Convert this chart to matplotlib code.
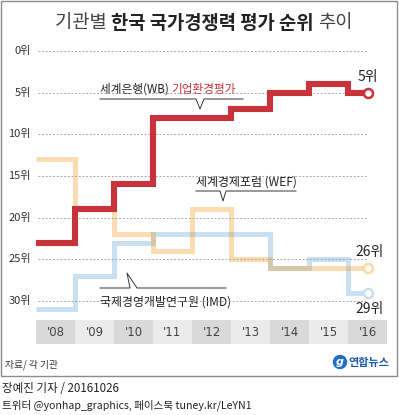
import matplotlib
matplotlib.use('Agg')
import matplotlib.pyplot as plt
from matplotlib.patches import Rectangle, Circle

plt.rcParams['font.family'] = ['Noto Sans CJK KR', 'DejaVu Sans']

# 연도 / 순위 데이터
years = ["'08", "'09", "'10", "'11", "'12", "'13", "'14", "'15", "'16"]
wb_rank = [23, 19, 16, 8, 8, 7, 5, 4, 5]        # 세계은행 기업환경평가
wef_rank = [13, 19, 22, 24, 19, 25, 26, 26, 26]  # 세계경제포럼
imd_rank = [31, 27, 23, 22, 22, 22, 26, 25, 29]  # 국제경영개발연구원
grid_ranks = [0, 5, 10, 15, 20, 25, 30]

RED = '#c8323a'
ORANGE = (0.97, 0.56, 0.0, 0.30)
BLUE = '#c8e0f2'
W, H = 399, 415

fig = plt.figure(figsize=(W / 100, H / 100), dpi=100)

# 픽셀 좌표용 바탕 axes
bg = fig.add_axes([0, 0, 1, 1])
bg.set_xlim(0, W)
bg.set_ylim(H, 0)
bg.axis('off')

# 차트 axes (x: 연도 인덱스, y: 순위)
ax = fig.add_axes([36 / W, (H - 350) / H, 351 / W, 310 / H])
ax.set_xlim(-0.5, 8.5)
ax.set_ylim(35.88, -1.32)
ax.axis('off')
ax.patch.set_alpha(0)

# 연도 띠
band_top, band_bot = 32.28, 35.16
shades = ['#d9d9d9' if i % 2 == 0 else '#ebebeb' for i in range(len(years))]
ax.bar(range(len(years)), band_bot - band_top, bottom=band_top, width=1.0,
       color=shades, zorder=1)
for i, y in enumerate(years):
    ax.text(i, (band_top + band_bot) / 2, y, ha='center', va='center',
            fontsize=8.5, color='#444444', family='DejaVu Sans')

# 눈금선 / 라벨
ax.hlines(grid_ranks, -0.45, 7.95, colors='#999999', linewidth=0.6,
          linestyles=(0, (2.2, 2.2)), zorder=3)
for r in grid_ranks:
    ax.text(-0.63, r, f'{r}위', ha='right', va='center', fontsize=8,
            color='#333333', clip_on=False)


def step_line(vals, color, lw, z, edge=None):
    xs = [-0.5] + list(range(len(vals)))
    ys = [vals[0]] + list(vals)
    ax.step(xs, ys, where='mid', color=color, linewidth=lw, zorder=z,
            solid_joinstyle='miter', solid_capstyle='butt')
    ax.plot(xs[-1], ys[-1], 'o', markersize=6.5, markerfacecolor='white',
            markeredgecolor=edge or color, markeredgewidth=1.8, zorder=z + 0.5)


step_line(imd_rank, BLUE, 3.6, 1.5)
step_line(wef_rank, ORANGE, 3.6, 2, edge='#fdd9a5')
step_line(wb_rank, RED, 4.4, 4)

# 끝 값 라벨
ax.text(8.0, wb_rank[-1] - 1.9, f'{wb_rank[-1]}위', ha='center', va='center',
        fontsize=10, color='#222222')
ax.text(8.05, wef_rank[-1] - 1.9, f'{wef_rank[-1]}위', ha='center', va='center',
        fontsize=10, color='#222222')
ax.text(8.05, imd_rank[-1] + 2.0, f'{imd_rank[-1]}위', ha='center', va='center',
        fontsize=10, color='#222222')

# 제목
t1 = bg.text(55, 33, '기관별 ', fontsize=13.5, color='#444444', va='bottom')
t2 = bg.annotate('한국 국가경쟁력 평가 순위 ', xy=(1, 0), xycoords=t1,
                 va='bottom', fontsize=13.5, fontweight='bold', color='#222222')
bg.annotate('추이', xy=(1, 0), xycoords=t2, va='bottom', fontsize=13.5,
            color='#444444')

# 설명 라벨
box = dict(facecolor='white', edgecolor='none', pad=0.5)
w1 = bg.text(100, 89, '세계은행(WB) ', fontsize=8.4, color='#222222', va='center',
             bbox=box, zorder=5)
bg.annotate('기업환경평가', xy=(1, 0.5), xycoords=w1, va='center', fontsize=8.4,
            color=RED, bbox=box, zorder=5)
bg.plot([100, 196, 200, 204, 243], [99, 99, 109, 99, 99], color='#333333',
        linewidth=0.7)

bg.text(196, 182, '세계경제포럼 (WEF)', fontsize=8.6, color='#222222', va='center',
        bbox=box, zorder=5)
bg.plot([196, 220, 223, 226, 296], [191, 191, 201, 191, 191], color='#333333',
        linewidth=0.7)

bg.text(100, 302, '국제경영개발연구원 (IMD)', fontsize=8.6, color='#222222',
        va='center', bbox=box, zorder=5)
bg.plot([100, 130, 127, 137, 226], [288, 288, 273, 288, 288], color='#333333',
        linewidth=0.7)

# 테두리 / 출처 / 로고
bg.add_patch(Rectangle((1, 1), 396, 375, fill=False, edgecolor='#8c8c8c',
                       linewidth=1.0))
bg.text(5, 365, '자료/ 각 기관', fontsize=7, color='#333333', va='center')
bg.add_patch(Circle((340, 362), 6.5, color='#1f6fc4'))
bg.text(340, 362, 'g', fontsize=8, color='white', ha='center', va='center',
        style='italic', fontweight='bold', family='DejaVu Sans')
bg.text(348, 362, '연합뉴스', fontsize=8, color='#1a5aa8', va='center',
        fontweight='bold')

bg.text(2, 388, '장예진 기자 / 20161026', fontsize=8.3, color='#222222', va='center')
bg.text(2, 405, '트위터 @yonhap_graphics, 페이스북 tuney.kr/LeYN1', fontsize=7.6,
        color='#222222', va='center')

fig.savefig('out.png', dpi=100)
